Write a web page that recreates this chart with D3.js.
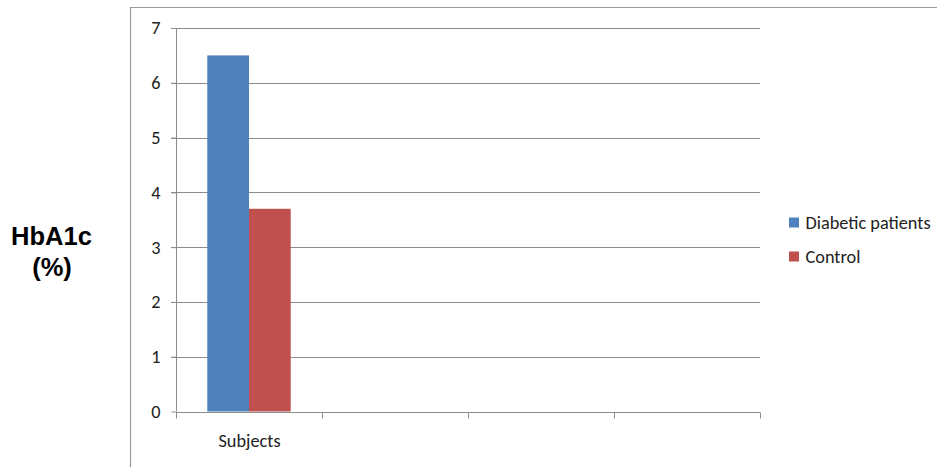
<!DOCTYPE html>
<html><head><meta charset="utf-8">
<script src="https://cdn.jsdelivr.net/npm/d3@7"></script>
<style>body{margin:0;background:#fff}svg{display:block}</style>
</head><body>
<svg id="c" width="937" height="467"></svg>
<script>
const categories = ["Subjects", "", "", ""];
const seriesNames = ["Diabetic patients", "Control"];
const diabetic = [6.5, null, null, null];
const control = [3.7, null, null, null];
const yTicks = [0, 1, 2, 3, 4, 5, 6, 7];
const colors = ["#4f81bd", "#c0504d"];

const svg = d3.select("#c");
const L = 176, R = 760, T = 28, B = 411.5;
const font = "Calibri, Carlito, 'Open Sans', sans-serif";
const fs = 18.3;

// outer border
svg.append("path").attr("d", "M130.5,467 V7.5 H937").attr("fill", "none").attr("stroke", "#9a9a9a").attr("stroke-width", 1.2);

const x = d3.scaleBand().domain(d3.range(categories.length)).range([L, R]).paddingInner(0).paddingOuter(0);
const y = d3.scaleLinear().domain([0, 7]).range([B, T]);

// gridlines
svg.append("g").selectAll("line").data(yTicks.filter(d => d > 0)).join("line")
  .attr("x1", L - 5).attr("x2", R).attr("y1", d => Math.round(y(d)) + 0.5).attr("y2", d => Math.round(y(d)) + 0.5)
  .attr("stroke", "#8c8c8c").attr("stroke-width", 1);

// bars
const x1 = d3.scaleBand().domain([0, 1]).range([0, x.bandwidth()]).paddingInner(0).paddingOuter(0.75);
[diabetic, control].forEach((vals, si) => {
  svg.append("g").selectAll("rect").data(vals.map((v, i) => ({v, i})).filter(d => d.v != null)).join("rect")
    .attr("x", d => x(d.i) + x1(si)).attr("width", x1.bandwidth())
    .attr("y", d => y(d.v)).attr("height", d => y(0) - y(d.v))
    .attr("fill", colors[si]);
});

// y axis
const yAxis = svg.append("g").attr("transform", `translate(${L + 0.5},0)`)
  .call(d3.axisLeft(y).tickValues(yTicks).tickSize(5).tickPadding(11).tickFormat(d3.format("d")));
yAxis.select(".domain").attr("stroke", "#8c8c8c").attr("d", `M0,${T}V${B}`);
yAxis.selectAll(".tick line").attr("stroke", "#8c8c8c");
yAxis.selectAll("text").attr("font-family", font).attr("font-size", fs).attr("fill", "#222");

// x axis
const xAxis = svg.append("g").attr("transform", `translate(0,${Math.round(B) + 0.5})`);
xAxis.append("line").attr("x1", L).attr("x2", R).attr("stroke", "#8c8c8c");
xAxis.selectAll(".tk").data(d3.range(categories.length + 1)).join("line")
  .attr("x1", i => Math.round(L + i * x.bandwidth()) + 0.5).attr("x2", i => Math.round(L + i * x.bandwidth()) + 0.5)
  .attr("y1", 0).attr("y2", 6).attr("stroke", "#8c8c8c");
xAxis.selectAll("text").data(categories).join("text")
  .attr("x", (d, i) => x(i) + x.bandwidth() / 2 + 0.5).attr("y", 34.5)
  .attr("text-anchor", "middle").attr("font-family", font).attr("font-size", fs).attr("fill", "#222").text(d => d);

// y title
const ytFont = "Arial, 'Liberation Sans', sans-serif";
svg.append("text").attr("font-family", ytFont).attr("font-weight", "bold")
  .attr("font-size", 25.5).attr("fill", "#000").attr("text-anchor", "middle")
  .attr("x", 51.5).attr("y", 245).text("HbA1c");
svg.append("text").attr("font-family", ytFont).attr("font-weight", "bold")
  .attr("font-size", 25.5).attr("fill", "#000").attr("text-anchor", "middle")
  .attr("x", 52).attr("y", 276).text("(%)");

// legend
const lg = svg.append("g").attr("transform", "translate(789,0)");
seriesNames.forEach((n, i) => {
  const cy = 222.5 + i * 34;
  lg.append("rect").attr("x", 0).attr("y", cy - 5).attr("width", 10).attr("height", 10).attr("fill", colors[i]);
  lg.append("text").attr("x", 16.5).attr("y", cy + 6).attr("font-family", font).attr("font-size", fs).attr("fill", "#222").text(n);
});
</script>
</body></html>
